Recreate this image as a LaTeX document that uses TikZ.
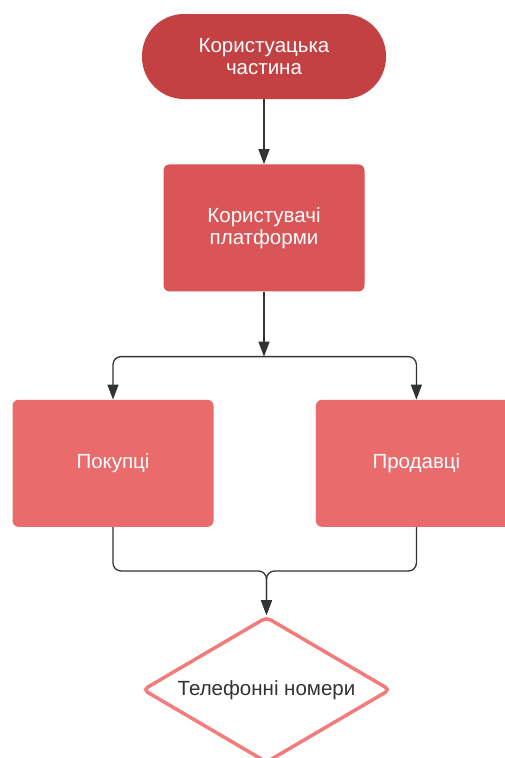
\documentclass[tikz,border=0pt]{standalone}
\usepackage{fontspec}
\setmainfont{Liberation Sans}
\usepackage{xcolor}
\usetikzlibrary{positioning,shapes.geometric,arrows.meta}
\definecolor{termred}{HTML}{C44143}
\definecolor{userred}{HTML}{D95558}
\definecolor{rolered}{HTML}{EA6B6B}
\definecolor{phonered}{HTML}{F27C7C}
\definecolor{linegray}{HTML}{333333}

\begin{document}
\begin{tikzpicture}[
	termnode/.style={rectangle, fill=termred, rounded corners=42pt, text=white, minimum width=244pt, minimum height=85pt, align=center, font=\fontsize{20.5}{22}\selectfont},
	rednode/.style={rectangle, fill=userred, rounded corners=6pt, text=white, minimum width=201pt, minimum height=127pt, align=center, font=\fontsize{20.5}{22}\selectfont},
	phonenode/.style={diamond, aspect=1.7, draw=phonered, fill=white, line width=3.5pt, rounded corners=5pt, minimum width=248pt, minimum height=146pt, inner sep=1pt, text=linegray, font=\fontsize{20.5}{22}\selectfont},
	arrow/.style={draw=linegray, line width=1.3pt, -{Triangle[width=11pt,length=15pt]}},
	]
	\useasboundingbox (0,0) rectangle (504pt,-758pt);
	%Nodes
	\node[termnode](term) at (264pt,-56.5pt){Користуацька\\частина};
	\node[rednode](users)[below=65pt of term]{Користувачі\\платформи};
	\node[rednode, fill=rolered](buyers)[below=108pt of users, xshift=-151pt]{Покупці};
	\node[rednode, fill=rolered](sellers)[right=102pt of buyers]{Продавці};
	\node[phonenode](phones)[below=88pt of buyers, xshift=153.5pt]{Телефонні номери};

	\coordinate (split) at ([yshift=-65pt]users.south);
	\coordinate (join) at ([yshift=-44pt]buyers.south -| phones.north);

	%Lines
	\draw[arrow] (term) -- (users);
	\draw[arrow] (users) -- (split);
	\draw[arrow, rounded corners=8pt] (split) -| (buyers);
	\draw[arrow, rounded corners=8pt] (split) -| (sellers);
	\draw[arrow, rounded corners=8pt] (buyers) |- (join) -- (phones);
	\draw[arrow, rounded corners=8pt] (sellers) |- (join) -- (phones);

\end{tikzpicture}
\end{document}
